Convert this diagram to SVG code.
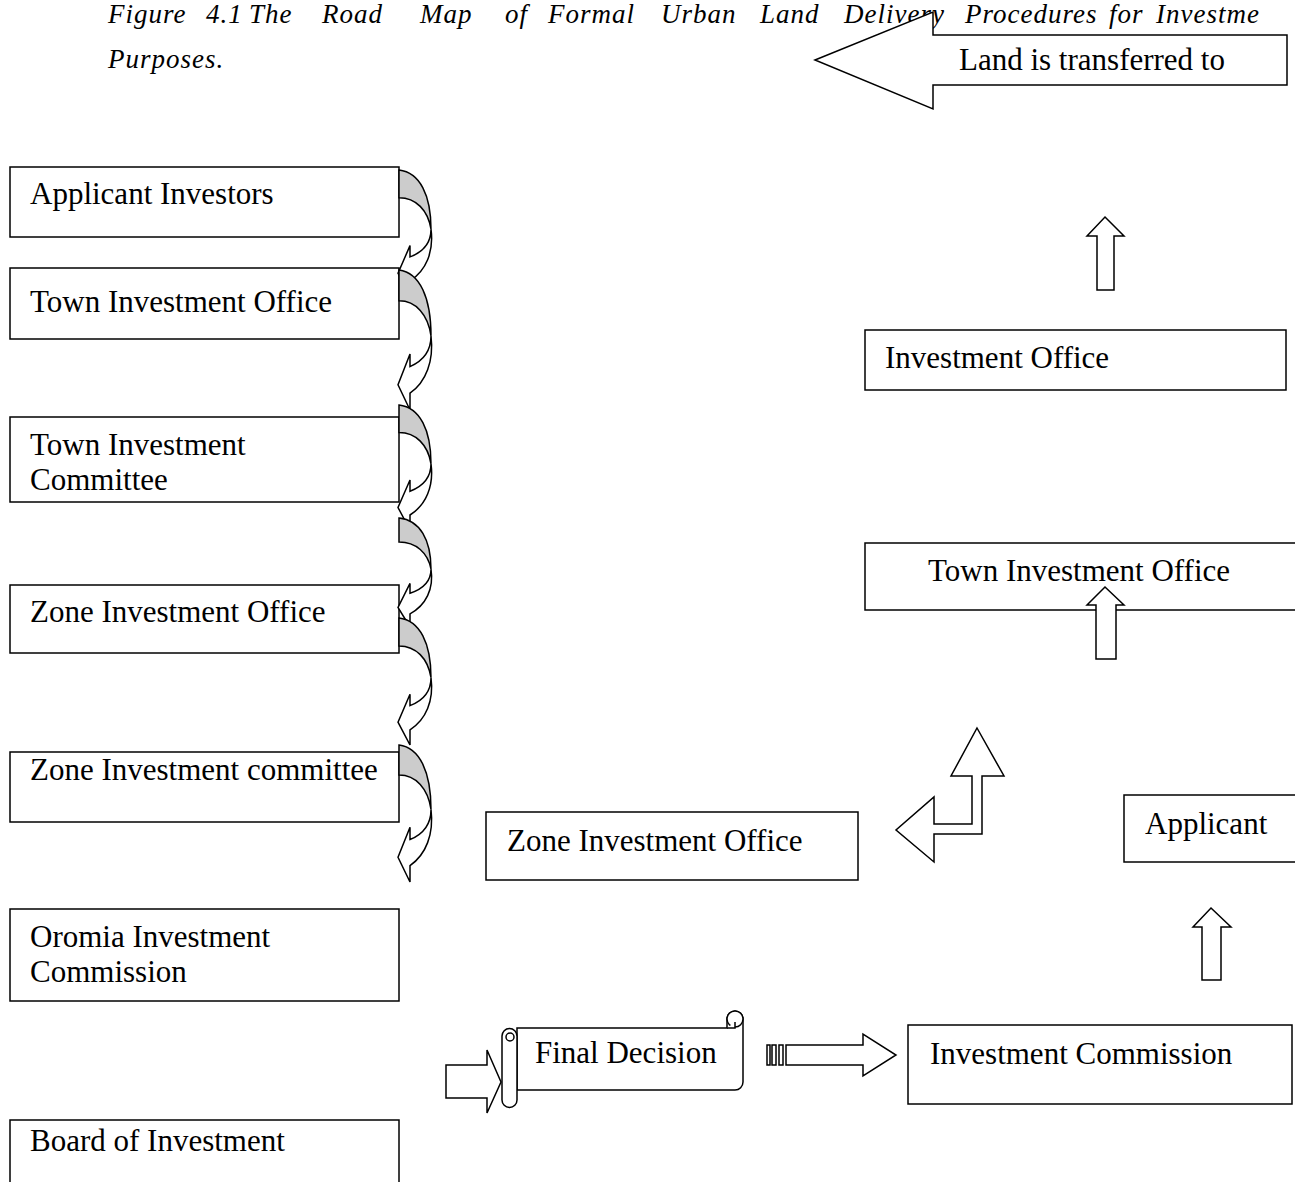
<svg xmlns="http://www.w3.org/2000/svg" width="1295" height="1182" viewBox="0 0 1295 1182">
<style>
.box{fill:#fff;stroke:#000;stroke-width:1.5}
.t{font-family:"Liberation Serif","Times New Roman",serif;font-size:31px;fill:#000}
.title{font-family:"Liberation Serif","Times New Roman",serif;font-size:27px;font-style:italic;letter-spacing:1px;fill:#000}
.arr{fill:#fff;stroke:#000;stroke-width:1.5;stroke-linejoin:miter}
.back{fill:#cccccc;stroke:#000;stroke-width:1.5}
</style>
<rect width="1295" height="1182" fill="#fff"/>
<g id="title">
<text class="title" y="23"><tspan x="108">Figure</tspan><tspan x="206">4.1</tspan><tspan x="249">The</tspan><tspan x="322">Road</tspan><tspan x="420">Map</tspan><tspan x="505">of</tspan><tspan x="548">Formal</tspan><tspan x="661">Urban</tspan><tspan x="760">Land</tspan><tspan x="844">Delivery</tspan><tspan x="965">Procedures</tspan><tspan x="1109">for</tspan><tspan x="1156">Investme</tspan></text>
<text class="title" x="108" y="68">Purposes.</text>
</g>
<g id="land-transferred">
<polygon class="arr" points="815,60 933,12 933,35 1287,35 1287,85 933,85 933,109"/>
<text class="t" x="959" y="70">Land is transferred to</text>
</g>
<g id="applicant-investors"><rect class="box" x="10" y="167" width="389" height="70"/><text class="t" x="30" y="204">Applicant Investors</text></g>
<g id="town-investment-office-1"><rect class="box" x="10" y="268" width="389" height="71"/><text class="t" x="30" y="312">Town Investment Office</text></g>
<g id="town-investment-committee"><rect class="box" x="10" y="417" width="389" height="85"/><text class="t" x="30" y="455">Town Investment</text><text class="t" x="30" y="490">Committee</text></g>
<g id="zone-investment-office-1"><rect class="box" x="10" y="585" width="389" height="68"/><text class="t" x="30" y="622">Zone Investment Office</text></g>
<g id="zone-investment-committee"><rect class="box" x="10" y="752" width="389" height="70"/><text class="t" x="30" y="780">Zone Investment committee</text></g>
<g id="oromia-investment-commission"><rect class="box" x="10" y="909" width="389" height="92"/><text class="t" x="30" y="947">Oromia Investment</text><text class="t" x="30" y="982">Commission</text></g>
<g id="board-of-investment"><rect class="box" x="10" y="1120" width="389" height="70"/><text class="t" x="30" y="1151">Board of Investment</text></g>
<g id="investment-office"><rect class="box" x="865" y="330" width="421" height="60"/><text class="t" x="885" y="368">Investment Office</text></g>
<g id="town-investment-office-2"><rect class="box" x="865" y="543" width="436" height="67"/><text class="t" x="928" y="581">Town Investment Office</text></g>
<g id="zone-investment-office-2"><rect class="box" x="486" y="812" width="372" height="68"/><text class="t" x="507" y="851">Zone Investment Office</text></g>
<g id="applicant"><rect class="box" x="1124" y="795" width="177" height="67"/><text class="t" x="1145" y="834">Applicant</text></g>
<g id="investment-commission"><rect class="box" x="908" y="1025" width="384" height="79"/><text class="t" x="930" y="1064">Investment Commission</text></g>
<g id="final-decision">
<path class="arr" d="M517,1028 H727 V1019 A8,8 0 0 1 743,1019 V1082 A8,8 0 0 1 735,1090 H517 Z"/>
<circle class="arr" cx="735" cy="1019" r="8"/>
<path class="arr" d="M727,1028 H735 V1022"/>
<path class="arr" d="M502,1036 A7.5,7.5 0 0 1 517,1036 V1100 A7.5,7.5 0 0 1 502,1100 Z"/>
<circle class="arr" cx="510" cy="1037" r="4"/>
<text class="t" x="535" y="1063">Final Decision</text>
</g>
<g id="connectors">
<path class="back" d="M399,170 C420,172.5 431,195.2 431,229.2 C428,210.3 416,197.7 399,197.7 Z"/>
<path class="arr" d="M431,229.2 C431,243.1 423,251.9 410,256.9 L410,245.6 L398,273.3 L410,296 L410,280.9 C426,270.8 434,251.9 431,229.2 Z"/>
<path class="back" d="M399,270 C420,272.8 431,298 431,335.8 C428,314.8 416,300.8 399,300.8 Z"/>
<path class="arr" d="M431,335.8 C431,351.2 423,361 410,366.6 L410,354 L398,384.8 L410,410 L410,393.2 C426,382 434,361 431,335.8 Z"/>
<path class="back" d="M399,405 C420,407.5 431,430 431,463.8 C428,445 416,432.5 399,432.5 Z"/>
<path class="arr" d="M431,463.8 C431,477.5 423,486.3 410,491.3 L410,480 L398,507.5 L410,530 L410,515 C426,505 434,486.3 431,463.8 Z"/>
<path class="back" d="M399,518 C420,520.2 431,539.8 431,569.2 C428,552.9 416,542 399,542 Z"/>
<path class="arr" d="M431,569.2 C431,581.2 423,588.9 410,593.2 L410,583.4 L398,607.4 L410,627 L410,613.9 C426,605.2 434,588.9 431,569.2 Z"/>
<path class="back" d="M399,618 C420,620.5 431,643.4 431,677.7 C428,658.6 416,645.9 399,645.9 Z"/>
<path class="arr" d="M431,677.7 C431,691.7 423,700.6 410,705.6 L410,694.2 L398,722.1 L410,745 L410,729.8 C426,719.6 434,700.6 431,677.7 Z"/>
<path class="back" d="M399,745 C420,747.7 431,772.4 431,809.4 C428,788.8 416,775.1 399,775.1 Z"/>
<path class="arr" d="M431,809.4 C431,824.5 423,834.1 410,839.5 L410,827.2 L398,857.3 L410,882 L410,865.6 C426,854.6 434,834.1 431,809.4 Z"/>
<polygon class="arr" points="446,1065 487,1065 487,1050 501,1082 487,1113 487,1098 446,1098"/>
<rect class="arr" x="767" y="1045" width="3" height="20"/>
<rect class="arr" x="772" y="1045" width="4" height="20"/>
<rect class="arr" x="779" y="1045" width="4" height="20"/>
<polygon class="arr" points="786,1045 863,1045 863,1034 896,1055 863,1076 863,1065 786,1065"/>
<polygon class="arr" points="1211,908 1231,927 1221,927 1221,980 1202,980 1202,927 1193,927"/>
<polygon class="arr" points="1105,587 1124,605 1116,605 1116,659 1096,659 1096,605 1087,605"/>
<polygon class="arr" points="1105,217 1124,236 1114,236 1114,290 1097,290 1097,236 1087,236"/>
<path class="arr" d="M977,728 L1004,776 L982,776 L982,834 L934,834 L934,862 L896,830 L934,797 L934,824 L972,824 L972,776 L951,776 Z"/>
</g>
</svg>
